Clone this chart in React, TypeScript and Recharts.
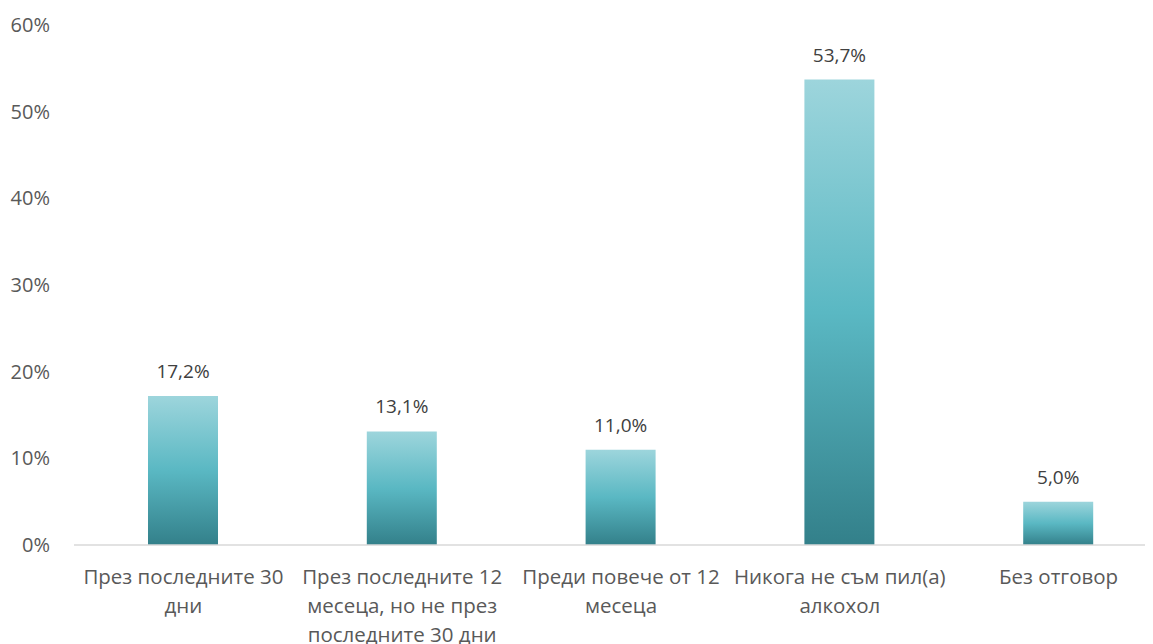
import { BarChart, Bar, XAxis, YAxis, LabelList } from "recharts";

const categories = [
  "През последните 30 дни",
  "През последните 12 месеца, но не през последните 30 дни",
  "Преди повече от 12 месеца",
  "Никога не съм пил(а) алкохол",
  "Без отговор",
];
const values = [17.2, 13.1, 11.0, 53.7, 5.0];
const yTicks = [0, 10, 20, 30, 40, 50, 60];

const data = categories.map((name, i) => ({ name, value: values[i] }));

const FONT = "'Open Sans', sans-serif";
const GREY = "#595959";

// simple word wrap by character count
function wrap(text: string, max: number) {
  const words = text.split(" ");
  const lines: string[] = [];
  let cur = "";
  words.forEach((w) => {
    const next = cur ? cur + " " + w : w;
    if (next.length > max && cur) {
      lines.push(cur);
      cur = w;
    } else {
      cur = next;
    }
  });
  if (cur) lines.push(cur);
  return lines;
}

function CategoryTick(props: any) {
  const { x, y, payload } = props;
  const lines = wrap(payload.value, 20);
  return (
    <text x={x} y={y} textAnchor="middle" fill={GREY} fontSize={20.5} fontFamily={FONT}>
      {lines.map((l, i) => (
        <tspan key={i} x={x} dy={i === 0 ? 31 : 29}>
          {l}
        </tspan>
      ))}
    </text>
  );
}

export default function App() {
  return (
    <div style={{ width: 1145, height: 636, overflow: "hidden" }}>
      <BarChart
        width={1170}
        height={636}
        data={data}
        margin={{ top: 17, right: 10, left: 0, bottom: 9 }}
      >
        <defs>
          <linearGradient id="barGrad" x1="0" y1="0" x2="0" y2="1">
            <stop offset="0%" stopColor="#9dd5dc" />
            <stop offset="50%" stopColor="#5ab8c3" />
            <stop offset="100%" stopColor="#33808a" />
          </linearGradient>
        </defs>
        <XAxis
          dataKey="name"
          interval={0}
          height={90}
          tickLine={false}
          axisLine={{ stroke: "#d9d9d9", strokeWidth: 1.5 }}
          tick={<CategoryTick />}
        />
        <YAxis
          domain={[0, 60]}
          ticks={yTicks}
          width={66}
          axisLine={false}
          tickLine={false}
          tickSize={0}
          tickMargin={24}
          tickFormatter={(v) => `${v}%`}
          tick={{ fill: GREY, fontSize: 20, fontFamily: FONT }}
        />
        <Bar dataKey="value" fill="url(#barGrad)" barSize={70} isAnimationActive={false}>
          <LabelList
            dataKey="value"
            position="top"
            offset={18}
            formatter={(v: any) => `${Number(v).toFixed(1).replace(".", ",")}%`}
            style={{ fill: "#404040", fontSize: 19, fontFamily: FONT }}
          />
        </Bar>
      </BarChart>
    </div>
  );
}
